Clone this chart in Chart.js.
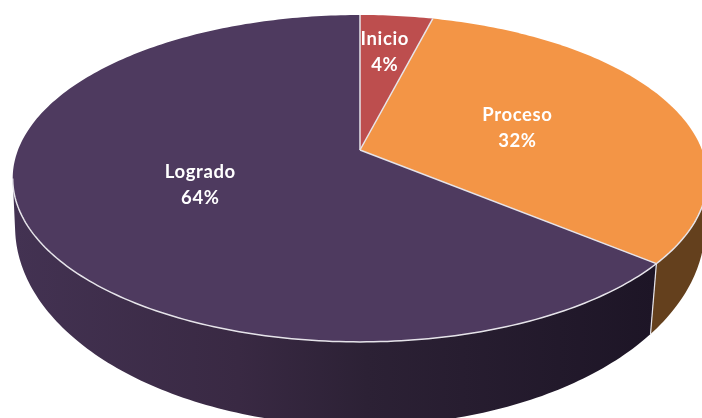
<!DOCTYPE html>
<html>
<head>
<meta charset="utf-8">
<title>Logrado, Proceso, Inicio</title>
<script src="https://cdn.jsdelivr.net/npm/chart.js@4"></script>
<style>
    html, body { margin: 0; padding: 0; background: #fff; overflow: hidden; }
    canvas { display: block; filter: blur(0.6px); }
</style>
</head>
<body>
<canvas id="chart" width="702" height="418"></canvas>
<script>
const categories = ["Inicio", "Proceso", "Logrado"];
const percentages = [4, 32, 64];
const topColors = ["#bd4e4e", "#f39546", "#4e3a5f"];

// Excel style tilted pie: the disc is a perspective view of a circle
const topRim = { cx: 360, cy: 150, rx: 342, ry: 158.5, k: 0.174 };
const bottomRim = { cx: 360, cy: 197, rx: 341, ry: 194.5, k: 0.15 };

function project(rim, angle, r = 1) {
    const w = 1 - rim.k * r * Math.sin(angle);
    return {
        x: rim.cx + (rim.rx * r * Math.cos(angle)) / w,
        y: rim.cy + (rim.ry * r * Math.sin(angle)) / w,
    };
}

function rimPoints(rim, start, end) {
    const steps = Math.max(2, Math.ceil(Math.abs(end - start) * 60));
    const points = [];
    for (let i = 0; i <= steps; i++) {
        points.push(project(rim, start + ((end - start) * i) / steps));
    }
    return points;
}

function tracePath(ctx, points) {
    points.forEach((p, n) => (n ? ctx.lineTo(p.x, p.y) : ctx.moveTo(p.x, p.y)));
}

function wallFill(ctx, index) {
    if (index === 1) return "#64401d";
    const fill = ctx.createLinearGradient(15, 0, 655, 0);
    fill.addColorStop(0, "#433252");
    fill.addColorStop(0.35, "#392943");
    fill.addColorStop(0.55, "#2c2135");
    fill.addColorStop(1, "#1d1526");
    return fill;
}

const tiltedPie = {
    id: "tiltedPie",
    beforeDatasetDraw(chart, args, opts) {
        const ctx = chart.ctx;
        const arcs = chart.getDatasetMeta(args.index).data;
        const frontStart = Math.asin(topRim.k);
        const frontEnd = Math.PI - frontStart;
        const apex = project(topRim, 0, 0);

        ctx.save();
        ctx.lineJoin = "round";

        // side wall, only the part of each slice that faces the viewer
        arcs.forEach((arc, i) => {
            const start = Math.max(arc.startAngle, frontStart);
            const end = Math.min(arc.endAngle, frontEnd);
            if (end <= start) return;
            ctx.beginPath();
            tracePath(ctx, rimPoints(topRim, start, end).concat(rimPoints(bottomRim, end, start)));
            ctx.closePath();
            ctx.fillStyle = wallFill(ctx, i);
            ctx.fill();
        });

        // seams between the walls
        arcs.forEach((arc) => {
            if (arc.startAngle <= frontStart || arc.startAngle >= frontEnd) return;
            ctx.beginPath();
            tracePath(ctx, [project(topRim, arc.startAngle), project(bottomRim, arc.startAngle)]);
            ctx.strokeStyle = opts.edgeColor;
            ctx.lineWidth = 1.2;
            ctx.stroke();
        });

        // top of the disc
        arcs.forEach((arc, i) => {
            ctx.beginPath();
            tracePath(ctx, [apex].concat(rimPoints(topRim, arc.startAngle, arc.endAngle)));
            ctx.closePath();
            ctx.fillStyle = topColors[i];
            ctx.fill();
        });

        // radial edges and the front rim, the back rim melts into the page
        ctx.strokeStyle = opts.edgeColor;
        ctx.lineWidth = 1.5;
        arcs.forEach((arc) => {
            ctx.beginPath();
            tracePath(ctx, [apex, project(topRim, arc.startAngle)]);
            ctx.stroke();
        });
        ctx.beginPath();
        tracePath(ctx, rimPoints(topRim, frontStart, frontEnd));
        ctx.stroke();

        // labels
        ctx.fillStyle = "#ffffff";
        ctx.font = "bold 18.5px Lato, 'Open Sans', sans-serif";
        ctx.letterSpacing = "0.6px";
        ctx.textAlign = "center";
        ctx.textBaseline = "middle";
        arcs.forEach((arc, i) => {
            const mid = (arc.startAngle + arc.endAngle) / 2;
            const p = project(topRim, mid, opts.labelRadius[i]);
            const x = p.x + opts.labelNudge[i][0];
            const y = p.y + opts.labelNudge[i][1];
            ctx.fillText(categories[i], x, y - 13);
            ctx.fillText(percentages[i] + "%", x, y + 13);
        });
        ctx.restore();
        return false;
    },
};

new Chart(document.getElementById("chart"), {
    type: "pie",
    data: {
        labels: categories,
        datasets: [{ data: percentages, backgroundColor: topColors }],
    },
    options: {
        responsive: false,
        animation: false,
        events: [],
        plugins: {
            legend: { display: false },
            tooltip: { enabled: false },
            tiltedPie: {
                edgeColor: "#e6e4ea",
                labelRadius: [0.7, 0.5, 0.5],
                labelNudge: [[-2, 0], [-1, 2], [1, 0]],
            },
        },
    },
    plugins: [tiltedPie],
});
</script>
</body>
</html>
